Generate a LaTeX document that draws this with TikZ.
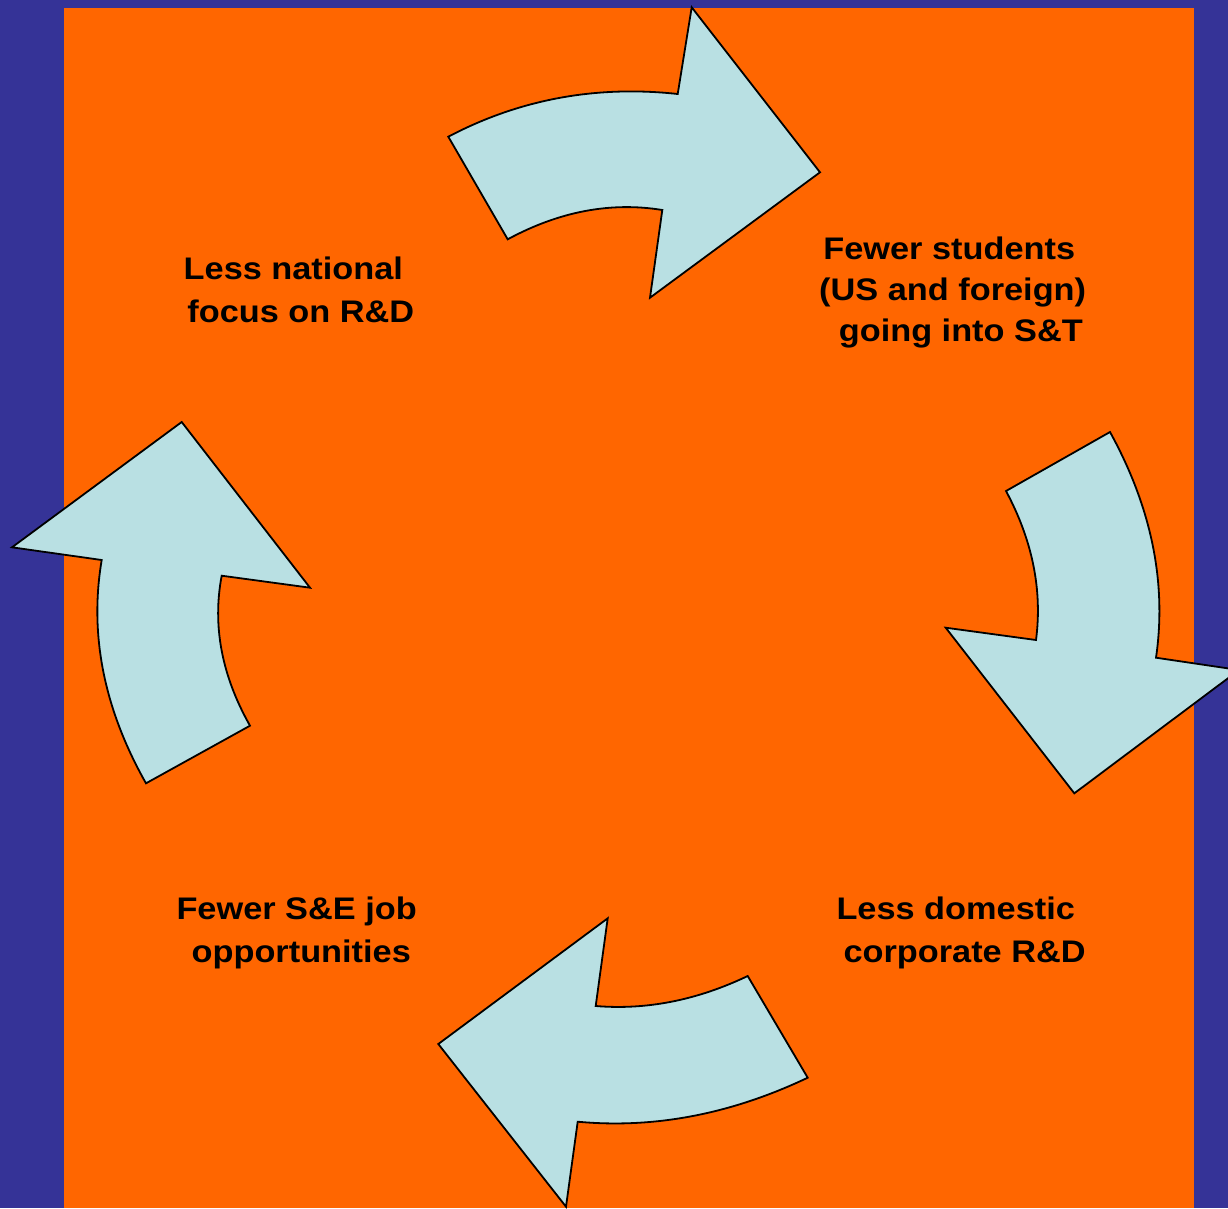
\documentclass[tikz,border=0pt]{standalone}
\usepackage{fontspec}
\setmainfont{Liberation Sans}[FakeStretch=1.1]
\definecolor{slideblue}{HTML}{353397}
\definecolor{slideorange}{HTML}{FF6600}
\definecolor{arrowfill}{HTML}{B9E0E3}
\begin{document}
\begin{tikzpicture}[x=1pt,y=-1pt,
  cyclearrow/.style={fill=arrowfill, draw=black, line width=1.8pt, line join=miter},
  lbl/.style={inner sep=0pt, anchor=base west, text=black,
    font=\fontsize{31.2}{43}\selectfont\bfseries}]
% slide frame
\clip (0,0) rectangle (1228,1208);
\fill[slideblue] (0,0) rectangle (1228,1208);
\fill[slideorange] (64,8) rectangle (1194,1208);

% curved arrows of the cycle
\draw[cyclearrow] (448.3,136.7) .. controls (519.4,99.3) and (595.9,85.1) .. (677.7,94)
  -- (691.7,7.3) -- (820,172.3) -- (650,297.7) -- (662.3,210)
  .. controls (610.8,201.6) and (559.2,211.4) .. (507.7,239.3) -- cycle;
\draw[cyclearrow] (1110,432) .. controls (1151.5,507.5) and (1166.9,582.7) .. (1156,657.7)
  -- (1239,670) -- (1074.3,793.3) -- (945.7,627.7) -- (1036,640)
  .. controls (1042.5,590.1) and (1032.5,540.5) .. (1006,491) -- cycle;
\draw[cyclearrow] (807.7,1077.7) .. controls (731.0,1114.1) and (654.4,1128.8) .. (577.7,1121.7)
  -- (566,1206.7) -- (438.3,1044) -- (607.7,918.3) -- (595.7,1006)
  .. controls (646.4,1010.2) and (697.0,1000.2) .. (747.7,976) -- cycle;
\draw[cyclearrow] (146,783.3) .. controls (103.9,708.9) and (89.1,634.5) .. (101.7,560)
  -- (12,547.3) -- (181.7,422) -- (310,587.7) -- (221.7,575.7)
  .. controls (212.2,625.7) and (221.7,675.7) .. (250,725.7) -- cycle;

% labels
\node[lbl] (focus) at (183.5,279.5)
  {\vtop{\hbox{Less national}\hbox{\kern3.7pt focus on R\&D}}};
\node[lbl] (students) at (819,259)
  {\vtop{\baselineskip=41.4pt\hbox{\kern4.2pt Fewer students}\hbox{(US and foreign)}\hbox{\kern19.6pt going into S\&T}}};
\node[lbl] (corporate) at (836.3,919.5)
  {\vtop{\hbox{Less domestic}\hbox{\kern7pt corporate R\&D}}};
\node[lbl] (jobs) at (176.3,919.5)
  {\vtop{\hbox{Fewer S\&E job}\hbox{\kern15.1pt opportunities}}};
\end{tikzpicture}
\end{document}
